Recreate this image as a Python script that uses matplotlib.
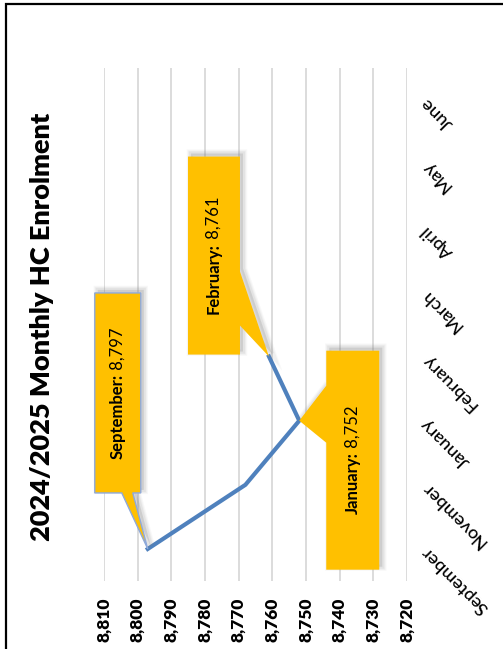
import matplotlib
matplotlib.use("Agg")
import matplotlib.pyplot as plt
from matplotlib.patches import Polygon, Rectangle
from matplotlib.transforms import IdentityTransform

months = ["September", "November", "January", "February", "March", "April", "May", "June"]
enrolment = [8797, 8768, 8752, 8761, None, None, None, None]
value_ticks = [8810, 8800, 8790, 8780, 8770, 8760, 8750, 8740, 8730, 8720]
value_labels = ["8,810", "8,800", "8,790", "8,780", "8,770", "8,760", "8,750", "8,740", "8,730", "8,720"]
title = "2024/2025 Monthly HC Enrolment"

W, H = 503, 649
FONT = "Lato"
plt.rcParams["font.family"] = [FONT, "DejaVu Sans"]

fig = plt.figure(figsize=(W / 100, H / 100), dpi=100)
fig.patch.set_facecolor("white")

# plot area in screen pixels
L, R, T, B = 104, 407, 68, 581
ax = fig.add_axes([L / W, 1 - B / H, (R - L) / W, (B - T) / H])
ax.set_facecolor("none")
ax.set_xlim(value_ticks[0], value_ticks[-1])
ax.set_ylim(-0.5, len(months) - 0.5)
for s in ax.spines.values():
    s.set_visible(False)
ax.set_xticks(value_ticks)
ax.set_xticklabels(value_labels, rotation=90, fontsize=12.5, fontweight="heavy")
ax.tick_params(axis="x", length=0, pad=12)
ax.grid(axis="x", color="#D9D9D9", linewidth=1.3)
ax.set_axisbelow(True)

ax.yaxis.tick_right()
ax.set_yticks(range(len(months)))
ax.set_yticklabels(months, fontsize=13, fontweight="medium")
ax.tick_params(axis="y", length=0, pad=12)
for lab in ax.get_yticklabels():
    lab.set_rotation(135)
    lab.set_rotation_mode("anchor")
    lab.set_ha("right")
    lab.set_va("center")

xs = [v for v in enrolment if v is not None]
ys = [i for i, v in enumerate(enrolment) if v is not None]
ax.plot(xs, ys, color="#4F81BD", linewidth=3.0, solid_joinstyle="round", zorder=3)

# title
fig.text(42 / W, 1 - 327 / H, title, rotation=90, ha="center", va="center",
         fontsize=19.5, fontweight="heavy", color="black")

# outer border
fig.add_artist(Rectangle((6 / W, -0.1), 1.2, 1 - 4 / H + 0.1, transform=fig.transFigure,
                         fill=False, edgecolor="black", linewidth=1.6))

fig.canvas.draw()
renderer = fig.canvas.get_renderer()

# callouts: (index, polygon offsets in screen px relative to point, bordered)
callouts = [
    (0, [(-53, -256), (-7, -256), (-7, -56), (-15, -56), (0, 0), (-26, -56), (-53, -56)], True),
    (3, [(-81, -200), (-29, -200), (-29, -85), (0, 0), (-29, -31), (-29, -2), (-81, -2)], False),
    (2, [(27, -70), (80, -70), (80, 149), (27, 149), (27, 22), (0, 0), (27, -35)], False),
]
ident = IdentityTransform()
for idx, offs, bordered in callouts:
    px, py = ax.transData.transform((enrolment[idx], idx))
    pts = [(px + dx, py - dy) for dx, dy in offs]
    # shadow
    for k, a in [(6, 0.05), (4.5, 0.07), (3, 0.1)]:
        sh = [(x + 3, y + 3) for x, y in pts]
        fig.add_artist(Polygon(sh, closed=True, transform=ident, facecolor="#7F7F7F",
                               edgecolor="#7F7F7F", linewidth=k, alpha=a, zorder=4))
    fig.add_artist(Polygon(pts, closed=True, transform=ident, facecolor="#FFC000",
                           edgecolor="#8EA9DB" if bordered else "none",
                           linewidth=1.0 if bordered else 0, zorder=5))
    rect = [p for p in pts if abs(p[0] - px) > 1 or abs(p[1] - py) > 1]
    cx = (min(p[0] for p in rect) + max(p[0] for p in rect)) / 2
    cy = (min(p[1] for p in rect) + max(p[1] for p in rect)) / 2
    bold = f"{months[idx]}:"
    reg = f"{enrolment[idx]:,}"
    fs = 12
    t1 = fig.text(0, 0, bold, fontsize=fs, fontweight="bold", rotation=90)
    t2 = fig.text(0, 0, " " + reg, fontsize=fs, rotation=90)
    h1 = t1.get_window_extent(renderer).height
    h2 = t2.get_window_extent(renderer).height
    t1.remove(); t2.remove()
    total = h1 + h2
    y0 = cy - total / 2
    fig.text(cx, y0 + h1 / 2, bold, transform=ident, fontsize=fs, fontweight="bold",
             rotation=90, ha="center", va="center", zorder=6)
    fig.text(cx, y0 + h1 + h2 / 2, " " + reg, transform=ident, fontsize=fs,
             rotation=90, ha="center", va="center", zorder=6)

fig.savefig("out.png", dpi=100)
